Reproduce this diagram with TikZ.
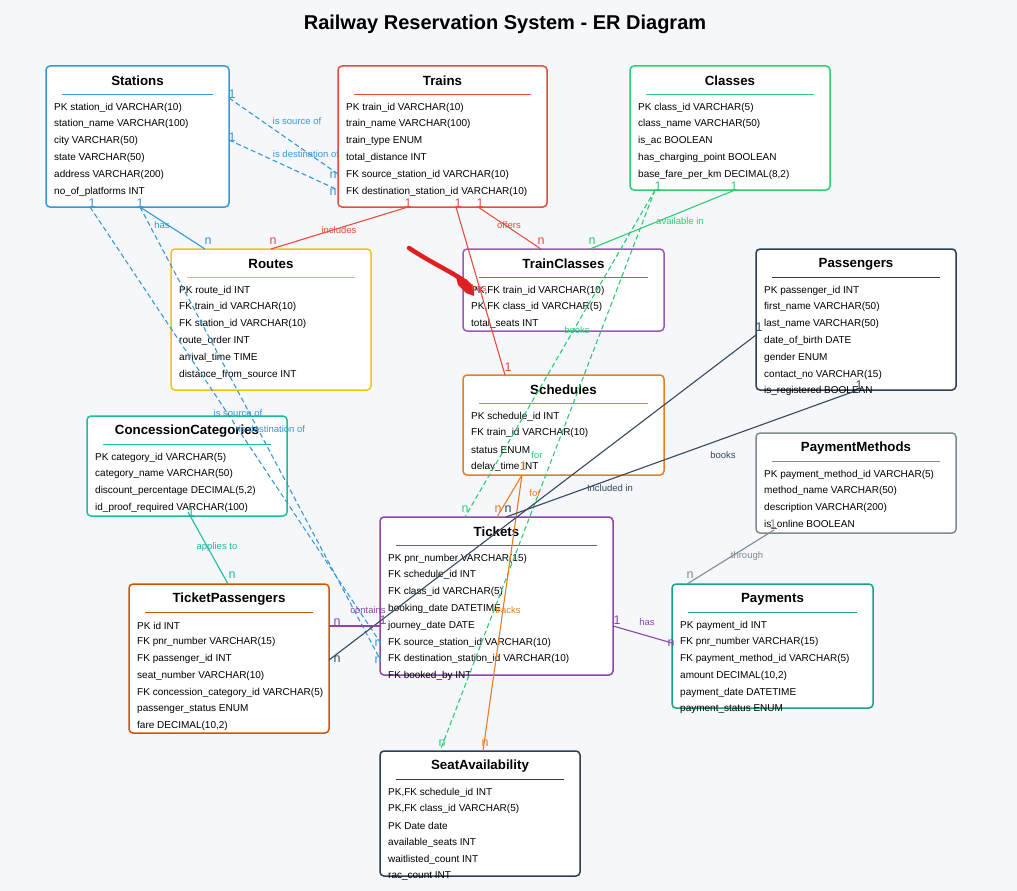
\documentclass[tikz,border=0pt]{standalone}
\usepackage{fontspec}
\setmainfont{Liberation Sans}
\usetikzlibrary{calc}
\definecolor{bg}{HTML}{F5F7FA}
\definecolor{cblue}{HTML}{3498DB}
\definecolor{cred}{HTML}{E74C3C}
\definecolor{cgreen}{HTML}{2ECC71}
\definecolor{cyellow}{HTML}{F1C40F}
\definecolor{cviolet}{HTML}{9B59B6}
\definecolor{cdark}{HTML}{34495E}
\definecolor{cnavy}{HTML}{2C3E50}
\definecolor{corange}{HTML}{E67E22}
\definecolor{cteal}{HTML}{1ABC9C}
\definecolor{cgrey}{HTML}{7F8C8D}
\definecolor{cpurple}{HTML}{8E44AD}
\definecolor{cpumpkin}{HTML}{D35400}
\definecolor{csea}{HTML}{16A085}
\definecolor{cmark}{HTML}{E02020}
\tikzset{
  ebox/.style={draw, line width=1.5pt, fill=white, rounded corners=4pt, inner sep=0pt, outer sep=0pt},
  etitle/.style={font=\bfseries\fontsize{13.3}{15}\selectfont, text=black, inner sep=0pt},
  erow/.style={font=\fontsize{10}{12}\selectfont, anchor=west, inner sep=0pt, text=black},
  card/.style={font=\fontsize{12.5}{14}\selectfont, inner sep=0pt},
  lbl/.style={font=\fontsize{9.5}{11}\selectfont, inner sep=0pt},
  conn/.style={line width=1.1pt},
  dconn/.style={line width=1.1pt, dash pattern=on 5pt off 3pt},
}
\newcommand{\entity}[7]{%
  \node[ebox, draw=#6, minimum width={(#4-#2)*1pt}, minimum height={(#5-#3)*1pt}] (#1) at ({(#2+#4)/2},{(#3+#5)/2}) {};
  \node[etitle] (#1-t) at ({(#2+#4)/2},{#3+15}) {#7};
  \draw[#6, line width=1pt] ({#2+16},{#3+28}) -- ({#4-16},{#3+28});
}
\newcommand{\erows}[4]{%
  \foreach \r [count=\i from 0] in {#4} {
    \node[erow] (#1-r\i) at ({#2+8},{#3+41.5+16.8*\i}) {\r};
  }
}
\begin{document}
\begin{tikzpicture}[x=1pt,y=-1pt]
\useasboundingbox (0,0) rectangle (1017,891);
\fill[bg] (0,0) rectangle (1017,891);
\node[font=\bfseries\fontsize{20}{24}\selectfont] (title) at (505,24) {Railway Reservation System - ER Diagram};

% ---------- entities ----------
\entity{stations}{46}{66}{229}{207}{cblue}{Stations}
\erows{stations}{46}{66}{PK station\_id VARCHAR(10), station\_name VARCHAR(100), city VARCHAR(50), state VARCHAR(50), address VARCHAR(200), no\_of\_platforms INT}

\entity{trains}{338}{66}{547}{207}{cred}{Trains}
\erows{trains}{338}{66}{PK train\_id VARCHAR(10), train\_name VARCHAR(100), train\_type ENUM, total\_distance INT, FK source\_station\_id VARCHAR(10), FK destination\_station\_id VARCHAR(10)}

\entity{classes}{630}{66}{830}{190}{cgreen}{Classes}
\erows{classes}{630}{66}{PK class\_id VARCHAR(5), class\_name VARCHAR(50), is\_ac BOOLEAN, has\_charging\_point BOOLEAN, {base\_fare\_per\_km DECIMAL(8,2)}}

\entity{routes}{171}{249}{371}{390}{cyellow}{Routes}
\erows{routes}{171}{249}{PK route\_id INT, FK train\_id VARCHAR(10), FK station\_id VARCHAR(10), route\_order INT, arrival\_time TIME, distance\_from\_source INT}

\entity{trainclasses}{463}{249}{664}{331}{cviolet}{TrainClasses}
\erows{trainclasses}{463}{249}{{PK,FK train\_id VARCHAR(10)}, {PK,FK class\_id VARCHAR(5)}, total\_seats INT}

\entity{passengers}{756}{249}{956}{390}{cnavy}{Passengers}
\erows{passengers}{756}{249}{PK passenger\_id INT, first\_name VARCHAR(50), last\_name VARCHAR(50), date\_of\_birth DATE, gender ENUM, contact\_no VARCHAR(15), is\_registered BOOLEAN}

\entity{schedules}{463}{375}{664}{475}{corange}{Schedules}
\erows{schedules}{463}{375}{PK schedule\_id INT, FK train\_id VARCHAR(10), status ENUM, delay\_time INT}

\entity{concession}{87}{416}{287}{516}{cteal}{ConcessionCategories}
\erows{concession}{87}{416}{PK category\_id VARCHAR(5), category\_name VARCHAR(50), {discount\_percentage DECIMAL(5,2)}, id\_proof\_required VARCHAR(100)}

\entity{paymethods}{756}{433}{956}{533}{cgrey}{PaymentMethods}
\erows{paymethods}{756}{433}{PK payment\_method\_id VARCHAR(5), method\_name VARCHAR(50), description VARCHAR(200), is\_online BOOLEAN}

\entity{tickets}{380}{517}{613}{675}{cpurple}{Tickets}
\erows{tickets}{380}{517}{PK pnr\_number VARCHAR(15), FK schedule\_id INT, FK class\_id VARCHAR(5), booking\_date DATETIME, journey\_date DATE, FK source\_station\_id VARCHAR(10), FK destination\_station\_id VARCHAR(10), FK booked\_by INT}

\entity{ticketpass}{129}{584}{329}{733}{cpumpkin}{TicketPassengers}
\erows{ticketpass}{129}{584}{PK id INT, FK pnr\_number VARCHAR(15), FK passenger\_id INT, seat\_number VARCHAR(10), FK concession\_category\_id VARCHAR(5), passenger\_status ENUM, {fare DECIMAL(10,2)}}

\entity{payments}{672}{584}{873}{708}{csea}{Payments}
\erows{payments}{672}{584}{PK payment\_id INT, FK pnr\_number VARCHAR(15), FK payment\_method\_id VARCHAR(5), {amount DECIMAL(10,2)}, payment\_date DATETIME, payment\_status ENUM}

\entity{seats}{380}{751}{580}{876}{cnavy}{SeatAvailability}
\erows{seats}{380}{751}{{PK,FK schedule\_id INT}, {PK,FK class\_id VARCHAR(5)}, PK Date date, available\_seats INT, waitlisted\_count INT, rac\_count INT}

% ---------- connectors ----------
\draw[dconn, cblue] ($(stations.north east)+(0,32)$) -- ($(trains.north west)+(0,108)$);
\draw[dconn, cblue] ($(stations.north east)+(0,74)$) -- ($(trains.north west)+(0,124)$);
\draw[conn, cblue] ($(stations.south west)+(94,0)$) -- ($(routes.north west)+(34,0)$);
\draw[dconn, cblue] ($(stations.south west)+(44,0)$) -- ($(tickets.north west)+(0,125)$);
\draw[dconn, cblue] ($(stations.south west)+(94,0)$) -- ($(tickets.north west)+(0,142)$);
\draw[conn, cred] ($(trains.south west)+(70,0)$) -- ($(routes.north west)+(100,0)$);
\draw[conn, cred] ($(trains.south west)+(118,0)$) -- ($(schedules.north west)+(42,0)$);
\draw[conn, cred] ($(trains.south west)+(140,0)$) -- ($(trainclasses.north west)+(78,0)$);
\draw[conn, cgreen] ($(classes.south west)+(105,0)$) -- ($(trainclasses.north west)+(127,0)$);
\draw[dconn, cgreen] ($(classes.south west)+(25,0)$) -- ($(tickets.north west)+(85,0)$);
\draw[dconn, cgreen] ($(classes.south west)+(25,0)$) -- ($(seats.north west)+(60,0)$);
\draw[conn, corange] ($(schedules.south west)+(59,0)$) -- ($(tickets.north west)+(117,0)$);
\draw[conn, corange] ($(schedules.south west)+(59,0)$) -- ($(seats.north west)+(103,0)$);
\draw[conn, cdark] ($(passengers.north west)+(0,86)$) -- ($(ticketpass.north east)+(0,76)$);
\draw[conn, cdark] ($(passengers.south west)+(102,0)$) -- ($(tickets.north west)+(126,0)$);
\draw[conn, cpurple] ($(tickets.north west)+(0,109)$) -- ($(ticketpass.north east)+(0,42)$);
\draw[conn, cpurple] ($(tickets.north east)+(0,109)$) -- ($(payments.north west)+(0,59)$);
\draw[conn, cgrey] ($(paymethods.south west)+(18,-3)$) -- ($(payments.north west)+(15,0)$);
\draw[conn, cteal] ($(concession.south west)+(101,-4)$) -- ($(ticketpass.north west)+(99,0)$);

% ---------- marker stroke ----------
\draw[cmark, line width=4.5pt, line cap=round] (409,248) .. controls (430,262) and (448,270) .. (463,280);
\fill[cmark] (456,277) -- (466,279) -- (474,287) -- (474,296) -- (466,293) -- (458,285) -- cycle;

% ---------- cardinalities ----------
\foreach \t/\x/\y/\c [count=\i] in {
  1/232/94/cblue, n/333/175/cblue, 1/232/137/cblue, n/333/192/cblue,
  1/92/203/cblue, 1/140/203/cblue, n/208/241/cblue, n/378/643/cblue, n/378/660/cblue,
  1/408/203/cred, 1/458/203/cred, 1/480/203/cred, n/273/241/cred, n/541/241/cred, 1/508/367/cred,
  1/658/186/cgreen, 1/734/186/cgreen, n/592/241/cgreen, n/465/509/cgreen, n/442/743/cgreen,
  1/523/466/corange, n/498/509/corange, n/485/743/corange,
  1/759/327/cdark, 1/859/385/cdark, n/508/509/cdark, n/337/659/cdark,
  1/383/620/cpurple, n/337/622/cpurple, 1/617/620/cpurple, n/671/643/cpurple,
  n/690/575/cgrey, 1/773/524/cgrey,
  n/232/575/cteal, 1/191/512/cteal} {
  \node[card, text=\c] (card\i) at (\x,\y) {\t};
}

% ---------- relationship labels ----------
\foreach \t/\x/\y/\c [count=\i] in {
  is source of/297/121/cblue, is destination of/306/154/cblue, has/162/225/cblue,
  is source of/238/413/cblue, is destination of/272/429/cblue,
  includes/339/230/cred, offers/509/225/cred, has/479/288/cred,
  available in/680/221/cgreen, books/577/330/cgreen, for/537/455/cgreen,
  for/535/493/corange, tracks/508/610/corange,
  books/723/455/cdark, Included in/610/488/cdark,
  contains/368/610/cpurple, has/647/622/cpurple,
  through/747/556/cgrey, applies to/217/547/cteal} {
  \node[lbl, text=\c] (lab\i) at (\x,\y) {\t};
}
\end{tikzpicture}
\end{document}
